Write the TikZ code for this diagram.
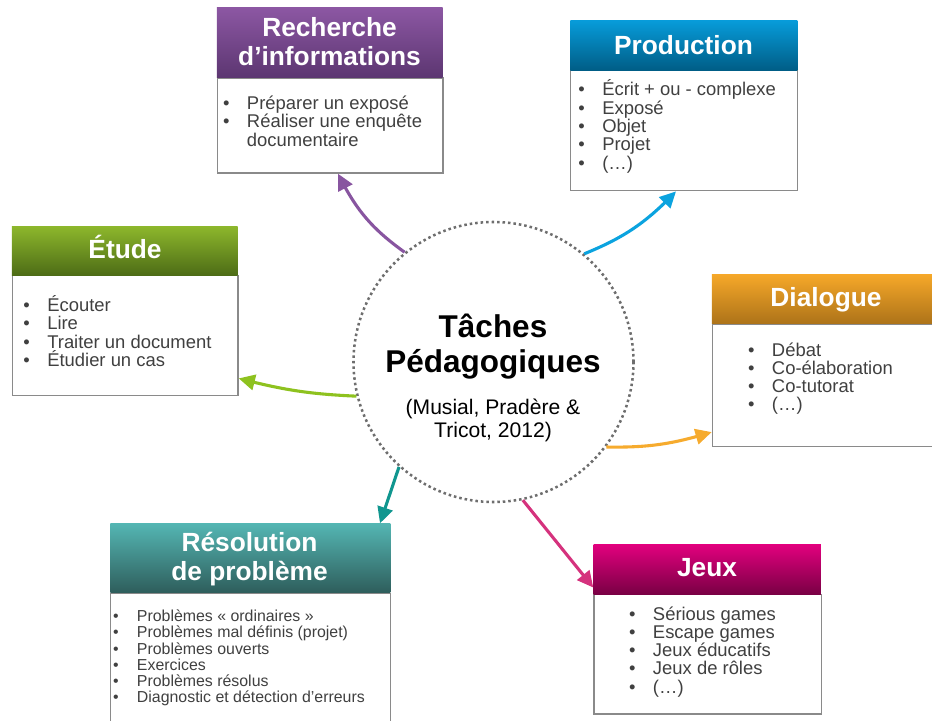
\documentclass[tikz,border=0pt]{standalone}
\usepackage{fontspec}
\setmainfont{Liberation Sans}
\setsansfont{Liberation Sans}
\usetikzlibrary{arrows.meta, bending}
\definecolor{cpurpleA}{HTML}{8C57A3}
\definecolor{cpurpleB}{HTML}{5C3671}
\definecolor{cblueA}{HTML}{079CDA}
\definecolor{cblueB}{HTML}{005D86}
\definecolor{cgreenA}{HTML}{8DB72C}
\definecolor{cgreenB}{HTML}{4D6C16}
\definecolor{corangeA}{HTML}{F6A829}
\definecolor{corangeB}{HTML}{AD7319}
\definecolor{ctealA}{HTML}{54B6B3}
\definecolor{ctealB}{HTML}{2E5D5B}
\definecolor{cmagentaA}{HTML}{E2007E}
\definecolor{cmagentaB}{HTML}{790044}
\definecolor{cpurple}{HTML}{8855A0}
\definecolor{cblue}{HTML}{0BA3DF}
\definecolor{cgreen}{HTML}{8EC21F}
\definecolor{corange}{HTML}{F6AB2E}
\definecolor{cteal}{HTML}{10968F}
\definecolor{cmagenta}{HTML}{D5327D}
\definecolor{cframe}{HTML}{8A8A8A}
\definecolor{cdots}{HTML}{6E6E6E}
\definecolor{ctext}{HTML}{404040}
\newlength{\pxu}\setlength{\pxu}{0.025cm}
\newlength{\bgap}\setlength{\bgap}{17pt}
\newcommand{\lines}[1]{\begin{tabular}[t]{@{}c@{}}#1\end{tabular}}
\newcommand{\itm}[1]{\hbox{\makebox[\bgap][l]{•}#1}}
\newcommand{\cnt}[1]{\hbox{\hspace*{\bgap}#1}}
\newcommand{\itemlist}[1]{\vtop{\lineskiplimit=-\maxdimen #1}}
\tikzset{
  every picture/.style={font=\sffamily},
  head/.style={top color=#1A, bottom color=#1B, draw=none, inner sep=0pt, anchor=north west},
  panel/.style={draw=cframe, fill=white, line width=1pt, inner sep=0pt, anchor=north west},
  htitle/.style={text=white, font=\sffamily\bfseries\fontsize{18.7}{20.7}\selectfont, inner sep=0pt, anchor=base},
  blist/.style={text=ctext, font=\sffamily\fontsize{13.1}{13}\selectfont, inner sep=0pt, anchor=base west},
  hub/.style={circle, draw=cdots, line width=1.8pt, dash pattern=on 1.8pt off 2.1pt, minimum size=280\pxu, inner sep=0pt},
  hubtitle/.style={font=\sffamily\bfseries\fontsize{22.4}{25}\selectfont, inner sep=0pt, anchor=base},
  hubnote/.style={font=\sffamily\fontsize{15}{16.4}\selectfont, inner sep=0pt, anchor=base},
  link/.style={-{Triangle[length=11.5pt, width=11pt]}, draw=#1, line width=2.2pt},
}
\begin{document}
\begin{tikzpicture}[x=0.025cm, y=-0.025cm]
  \useasboundingbox (0,0) rectangle (932,721);
  \clip (0,0) rectangle (932,721);
  % centre
  \node[hub] (hub) at (493.5,362) {};
  \node[hubtitle] (hubT) at (493,337) {\lines{Tâches\\Pédagogiques}};
  \node[hubnote] (hubN) at (493,414) {\lines{(Musial, Pradère \&\\Tricot, 2012)}};
  % Recherche d'informations
  \node[panel, minimum width=225.6\pxu, minimum height=95\pxu] (rechB) at (216.7,77.3) {};
  \node[head=cpurple, minimum width=225.6\pxu, minimum height=70\pxu] (rechH) at (216.7,7.3) {};
  \node[htitle] (rechT) at (329.5,36.7) {\lines{Recherche\\d’informations}};
  \node[blist] (rechL) at (222.8,109.5) {\itemlist{\itm{Préparer un exposé}\itm{Réaliser une enquête}\cnt{documentaire}}};
  % Production
  \node[panel, minimum width=227\pxu, minimum height=120\pxu] (prodB) at (570,70) {};
  \node[head=cblue, minimum width=227\pxu, minimum height=50\pxu] (prodH) at (570,20) {};
  \node[htitle] (prodT) at (683.5,55) {Production};
  \node[blist] (prodL) at (578.1,96) {\itemlist{\itm{Écrit + ou - complexe}\itm{Exposé}\itm{Objet}\itm{Projet}\itm{(…)}}};
  % Etude
  \node[panel, minimum width=225.6\pxu, minimum height=120\pxu] (etudB) at (11.7,275) {};
  \node[head=cgreen, minimum width=225.6\pxu, minimum height=49\pxu] (etudH) at (11.7,226) {};
  \node[htitle] (etudT) at (125,258.3) {Étude};
  \node[blist] (etudL) at (23.1,311.7) {\itemlist{\itm{Écouter}\itm{Lire}\itm{Traiter un document}\itm{Étudier un cas}}};
  % Dialogue
  \node[panel, minimum width=228\pxu, minimum height=122.4\pxu] (dialB) at (711.7,323.3) {};
  \node[head=corange, minimum width=228\pxu, minimum height=49.3\pxu] (dialH) at (711.7,274) {};
  \node[htitle] (dialT) at (826,306) {Dialogue};
  \node[blist] (dialL) at (747.8,356) {\itemlist{\itm{Débat}\itm{Co-élaboration}\itm{Co-tutorat}\itm{(…)}}};
  % Resolution de probleme
  \node[panel, minimum width=280\pxu, minimum height=140\pxu] (resoB) at (110,592.7) {};
  \node[head=cteal, minimum width=280\pxu, minimum height=69.4\pxu] (resoH) at (110,523.3) {};
  \node[htitle] (resoT) at (249.5,551.7) {\lines{Résolution\\de problème}};
  \node[blist, font=\sffamily\fontsize{11.3}{11.5}\selectfont] (resoL) at (112.8,621.7) {\itemlist{\itm{Problèmes « ordinaires »}\itm{Problèmes mal définis (projet)}\itm{Problèmes ouverts}\itm{Exercices}\itm{Problèmes résolus}\itm{Diagnostic et détection d’erreurs}}};
  % Jeux
  \node[panel, minimum width=227.4\pxu, minimum height=119.3\pxu] (jeuxB) at (593.3,594) {};
  \node[head=cmagenta, minimum width=227.4\pxu, minimum height=50\pxu] (jeuxH) at (593.3,544) {};
  \node[htitle] (jeuxT) at (707,576) {Jeux};
  \node[blist] (jeuxL) at (628.8,620) {\itemlist{\itm{Sérious games}\itm{Escape games}\itm{Jeux éducatifs}\itm{Jeux de rôles}\itm{(…)}}};
  % links
  \draw[link=cpurple] (hub.129.5) to[bend left=14] ([xshift=121.3\pxu]rechB.south west);
  \draw[link=cblue] (hub.50.5) to[bend right=12] ([xshift=106\pxu]prodB.south west);
  \draw[link=cgreen] (hub.194.5) to[bend left=6] ([yshift=18\pxu]etudB.south east);
  \draw[link=corange] (hub.-37) to[bend right=9] ([yshift=15\pxu]dialB.south west);
  \draw[link=cteal] (hub.228.5) -- ([xshift=270\pxu]resoH.north west);
  \draw[link=cmagenta] (hub.-78) -- ([yshift=7\pxu]jeuxH.south west);
\end{tikzpicture}
\end{document}
